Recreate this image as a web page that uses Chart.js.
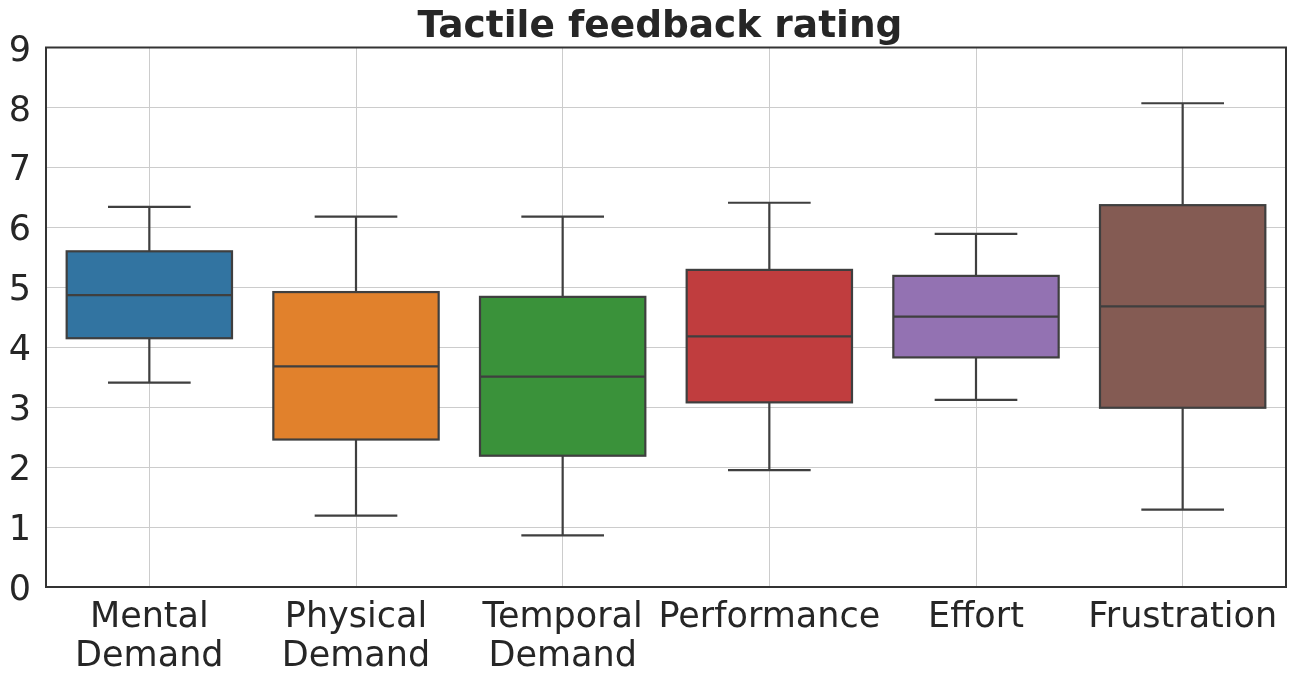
<!DOCTYPE html>
<html>
<head>
<meta charset="utf-8">
<script src="https://cdn.jsdelivr.net/npm/chart.js@4"></script>
<style>
html,body{margin:0;padding:0;background:#fff;}
#wrap{width:1295px;height:683px;}
</style>
</head>
<body>
<div id="wrap"><canvas id="c" width="1295" height="683"></canvas></div>
<script>
const categories = [["Mental","Demand"],["Physical","Demand"],["Temporal","Demand"],"Performance","Effort","Frustration"];
const whiskerLow  = [3.41, 1.19, 0.86, 1.95, 3.12, 1.29];
const q1Values    = [4.15, 2.46, 2.19, 3.08, 3.83, 2.99];
const medians     = [4.87, 3.68, 3.51, 4.18, 4.51, 4.68];
const q3Values    = [5.60, 4.92, 4.84, 5.29, 5.19, 6.37];
const whiskerHigh = [6.34, 6.18, 6.18, 6.41, 5.89, 8.07];
const boxColors   = ["#3274a1","#e1812c","#3a923a","#c03d3e","#9372b2","#845b53"];
const yTicks      = [0,1,2,3,4,5,6,7,8,9];

const lineColor = "#3f3f3f";
const textColor = "#262626";

const boxPlugin = {
  id: 'boxWhiskers',
  afterLayout(chart) {
    const tb = chart.titleBlock;
    if (tb) {
      const a = chart.chartArea;
      tb.left = a.left - 12;
      tb.right = a.right;
      tb.width = tb.right - tb.left;
    }
  },
  afterDatasetsDraw(chart) {
    const ctx = chart.ctx;
    const xs = chart.scales.x, ys = chart.scales.y;
    const meta = chart.getDatasetMeta(0);
    ctx.save();
    ctx.strokeStyle = lineColor;
    ctx.lineWidth = 2.2;
    ctx.lineCap = 'butt';
    ctx.lineJoin = 'miter';
    categories.forEach((c, i) => {
      const cx = xs.getPixelForValue(i);
      const bar = meta.data[i];
      const half = bar.width / 2;
      const capHalf = half / 2;
      const yLo = ys.getPixelForValue(whiskerLow[i]);
      const yHi = ys.getPixelForValue(whiskerHigh[i]);
      const yQ1 = ys.getPixelForValue(q1Values[i]);
      const yQ3 = ys.getPixelForValue(q3Values[i]);
      const yMed = ys.getPixelForValue(medians[i]);
      ctx.beginPath();
      ctx.moveTo(cx, yQ1); ctx.lineTo(cx, yLo);
      ctx.moveTo(cx, yQ3); ctx.lineTo(cx, yHi);
      ctx.moveTo(cx - capHalf, yLo); ctx.lineTo(cx + capHalf, yLo);
      ctx.moveTo(cx - capHalf, yHi); ctx.lineTo(cx + capHalf, yHi);
      ctx.moveTo(cx - half, yMed); ctx.lineTo(cx + half, yMed);
      ctx.stroke();
      ctx.strokeRect(cx - half, yQ3, 2 * half, yQ1 - yQ3);
    });
    const a = chart.chartArea;
    ctx.strokeStyle = "#333333";
    ctx.lineWidth = 2;
    ctx.strokeRect(a.left, a.top, a.right - a.left, a.bottom - a.top);
    ctx.restore();
  }
};

new Chart(document.getElementById('c'), {
  type: 'bar',
  data: {
    labels: categories,
    datasets: [{
      data: categories.map((c, i) => [q1Values[i], q3Values[i]]),
      backgroundColor: boxColors,
      borderWidth: 0,
      categoryPercentage: 0.8,
      barPercentage: 1.0
    }]
  },
  options: {
    responsive: false,
    devicePixelRatio: 1,
    animation: false,
    layout: { padding: { left: 0, right: 9, top: 0, bottom: 0 } },
    plugins: {
      legend: { display: false },
      tooltip: { enabled: false },
      title: {
        display: true,
        text: 'Tactile feedback rating',
        color: textColor,
        fullSize: true,
        font: { family: 'DejaVu Sans', size: 37.5, weight: 'bold', lineHeight: 1.0 },
        padding: { top: 9, bottom: 1 }
      }
    },
    scales: {
      x: {
        offset: true,
        grid: { offset: false, color: '#cccccc', lineWidth: 1, drawTicks: false },
        border: { display: false },
        ticks: {
          color: textColor,
          padding: 11,
          maxRotation: 0,
          autoSkip: false,
          font: { family: 'DejaVu Sans', size: 35, lineHeight: 1.114 }
        },
        afterFit(s) { s.height = 96; }
      },
      y: {
        min: 0, max: 9,
        afterBuildTicks(s) { s.ticks = yTicks.map(v => ({ value: v })); },
        grid: { color: '#cccccc', lineWidth: 1, drawTicks: false },
        border: { display: false },
        ticks: {
          color: textColor,
          padding: 15,
          labelOffset: 4,
          font: { family: 'DejaVu Sans', size: 35 }
        },
        afterFit(s) { s.width = 46; }
      }
    }
  },
  plugins: [boxPlugin]
});
</script>
</body>
</html>
